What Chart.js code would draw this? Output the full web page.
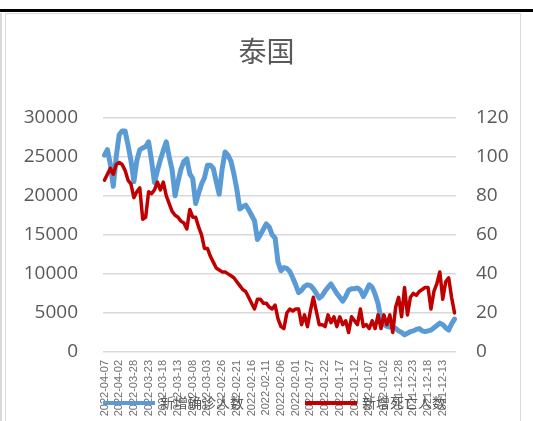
<!DOCTYPE html>
<html>
<head>
<meta charset="utf-8">
<style>
    body { margin: 0; background: #fff; }
    #wrap { position: relative; width: 533px; height: 421px; overflow: hidden; }
    .topline { position: absolute; left: 0; top: 9px; width: 533px; height: 3px; background: #000; }
    .box { position: absolute; left: 5px; top: 13px; width: 514px; height: 420px; border: 1.5px solid #d9d9d9; }
    .edge { position: absolute; left: 0; top: 13px; width: 2px; height: 420px; background: #d9d9d9; }
    canvas { position: absolute; left: 0; top: 0; }
</style>
</head>
<body>
<div id="wrap">
    <div class="topline"></div>
    <div class="edge"></div>
    <div class="box"></div>
    <canvas id="thaiChart" width="533" height="421"></canvas>
</div>

<script src="https://cdn.jsdelivr.net/npm/chart.js"></script>
<script>
    // 2022-04-07 부터 하루씩 거꾸로 (120일)
    const dates = [];
    const start = Date.UTC(2022, 3, 7);
    for (let i = 0; i < 120; i++) {
        dates.push(new Date(start - i * 86400000).toISOString().slice(0, 10));
    }

    // 新增确诊人数 (왼쪽 축)
    const confirmed = [
        25200, 25900, 24000, 21200, 25000, 27800, 28300, 28300, 26500, 24500,
        21800, 24500, 25900, 26100, 26300, 26900, 24500, 21700, 23200, 24600,
        25800, 26900, 25000, 23300, 20000, 21800, 23400, 24400, 24700, 22800,
        22200, 19000, 20300, 21500, 22300, 23900, 23900, 23500, 21800, 20200,
        23400, 25600, 25200, 24400, 22800, 20800, 18300, 18600, 18800, 18200,
        17500, 16800, 14400, 15000, 15700, 16400, 16000, 15000, 14600, 11500,
        10400, 10800, 10700, 10300, 9500, 8600, 7600, 7900, 8400, 8600,
        8500, 8100, 7500, 6900, 7200, 7800, 8300, 8700, 8100, 7500,
        7000, 6500, 7100, 7900, 8100, 8100, 8200, 7900, 7100, 7800,
        8600, 8300, 7400, 6200, 4200, 3500, 3300, 3200, 3200, 3000,
        2700, 2500, 2200, 2400, 2600, 2700, 2900, 3000, 2700, 2600,
        2700, 2800, 3100, 3400, 3700, 3500, 3100, 2800, 3600, 4200
    ];

    // 新增死亡人数 (오른쪽 축)
    const deaths = [
        88, 91, 94, 91, 96, 97, 96, 93, 88, 86,
        79, 82, 84, 68, 69, 82, 81, 83, 87, 83,
        87, 80, 76, 72, 70, 69, 67, 66, 63, 73,
        69, 69, 64, 60, 53, 53, 49, 46, 43, 42,
        41, 41, 40, 39, 38, 36, 34, 32, 31, 28,
        25, 22, 27, 27, 25, 25, 23, 22, 24, 17,
        13, 12, 20, 22, 21, 22, 22, 14, 19, 13,
        21, 28, 21, 14, 14, 13, 19, 15, 18, 13,
        18, 14, 16, 10, 18, 16, 14, 22, 13, 14,
        12, 16, 12, 19, 12, 19, 14, 19, 10, 23,
        28, 18, 33, 19, 28, 30, 29, 31, 32, 33,
        33, 22, 31, 35, 41, 27, 36, 38, 28, 20
    ];

    const leftTicks = [0, 5000, 10000, 15000, 20000, 25000, 30000];
    const rightTicks = [0, 20, 40, 60, 80, 100, 120];

    const gray = '#595959';

    // 엑셀처럼 범례가 x축 라벨 위에 겹쳐 그려짐
    const overlapLegend = {
        id: 'overlapLegend',
        afterDraw(chart) {
            const c = chart.ctx;
            const y = 403;
            let x = chart.chartArea.left;
            c.save();
            c.font = '14px "Noto Sans CJK SC"';
            c.textBaseline = 'middle';
            chart.data.datasets.forEach((ds) => {
                c.fillStyle = ds.borderColor;
                c.fillRect(x, y - 2, 52, 4);
                x += 57;
                c.fillStyle = gray;
                c.fillText(ds.label, x, y);
                x += c.measureText(ds.label).width + 61;
            });
            c.restore();
        }
    };

    const ctx = document.getElementById('thaiChart').getContext('2d');
    new Chart(ctx, {
        type: 'line',
        data: {
            labels: dates,
            datasets: [
                {
                    label: '新增确诊人数',
                    data: confirmed,
                    yAxisID: 'y',
                    borderColor: '#5b9bd5',
                    backgroundColor: '#5b9bd5',
                    borderWidth: 5,
                    borderJoinStyle: 'round',
                    borderCapStyle: 'round',
                    pointRadius: 0,
                    tension: 0,
                    order: 1
                },
                {
                    label: '新增死亡人数',
                    data: deaths,
                    yAxisID: 'y1',
                    borderColor: '#c00000',
                    backgroundColor: '#c00000',
                    borderWidth: 3.5,
                    borderJoinStyle: 'round',
                    borderCapStyle: 'round',
                    pointRadius: 0,
                    tension: 0,
                    order: 0
                }
            ]
        },
        options: {
            responsive: false,
            animation: false,
            layout: { padding: 0 },
            plugins: {
                legend: { display: false },
                tooltip: { enabled: false },
                title: {
                    display: true,
                    text: '泰国',
                    color: gray,
                    font: { family: '"Noto Sans CJK SC"', size: 28, weight: 'normal' },
                    padding: { top: 35, bottom: 49 }
                }
            },
            scales: {
                x: {
                    offset: true,
                    grid: { display: false, drawTicks: false },
                    border: { display: false },
                    ticks: {
                        autoSkip: false,
                        minRotation: 90,
                        maxRotation: 90,
                        padding: 8,
                        color: '#6f6f6f',
                        font: { family: 'Liberation Sans', size: 11 },
                        callback: function (v, i) {
                            return i % 5 === 0 ? this.getLabelForValue(v) : null;
                        }
                    },
                    afterFit: (s) => { s.height = 69; }
                },
                y: {
                    position: 'left',
                    min: 0,
                    max: 30000,
                    grid: { color: '#d9d9d9', lineWidth: 1.5, drawTicks: false },
                    border: { display: false },
                    afterBuildTicks: (s) => { s.ticks = leftTicks.map(v => ({ value: v })); },
                    ticks: {
                        padding: 25,
                        color: gray,
                        font: { family: 'Open Sans', size: 19 },
                        callback: (v) => String(v)
                    },
                    afterFit: (s) => { s.width = 103; }
                },
                y1: {
                    position: 'right',
                    min: 0,
                    max: 120,
                    grid: { display: false, drawTicks: false },
                    border: { display: false },
                    afterBuildTicks: (s) => { s.ticks = rightTicks.map(v => ({ value: v })); },
                    ticks: {
                        padding: 20,
                        color: gray,
                        font: { family: 'Open Sans', size: 19 },
                        callback: (v) => String(v)
                    },
                    afterFit: (s) => { s.width = 77; }
                }
            }
        },
        plugins: [overlapLegend]
    });
</script>
</body>
</html>
